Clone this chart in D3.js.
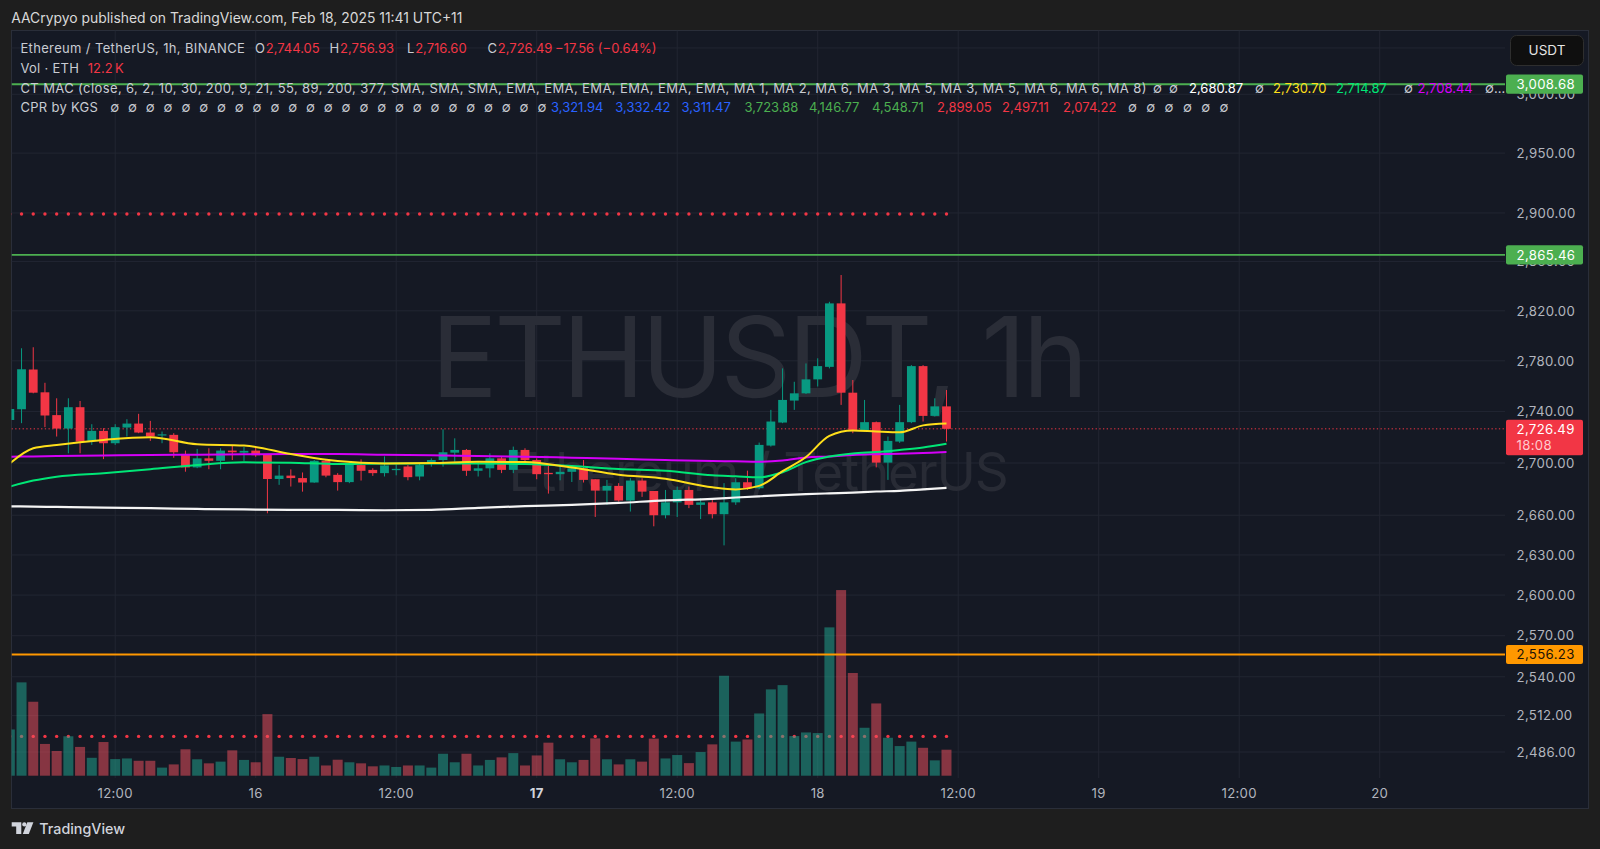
<!DOCTYPE html>
<html><head><meta charset="utf-8"><title>ETHUSDT 1h</title>
<script src="https://cdn.jsdelivr.net/npm/d3@7/dist/d3.min.js"></script>
<style>html,body{margin:0;padding:0;background:#1e1e1e;overflow:hidden}svg{display:block;font-family:Inter,"Noto Sans","DejaVu Sans",sans-serif}</style>
</head><body><svg id="chart" width="1600" height="849"></svg>
<script>
// ---------------- DATA ----------------
const firstCandleUTC = Date.UTC(2025, 1, 15, 3); // Feb 15 03:00, 1h candles
const opens = [2733.4,2741.8,2773.1,2755.1,2737.2,2726.7,2743.4,2717.1,2724.9,2715.3,
2727.5,2730.6,2723.6,2721.3,2721.8,2707.0,2696.6,2703.6,2701.7,2709.6,
2708.0,2709.6,2706.2,2687.7,2690.3,2688.4,2685.0,2701.7,2690.9,2685.3,
2698.4,2694.7,2692.2,2694.5,2697.3,2689.6,2700.3,2702.3,2708.0,2710.1,
2694.0,2695.9,2703.6,2694.7,2710.1,2702.3,2692.4,2691.4,2693.2,2695.9,
2687.5,2678.8,2682.4,2671.2,2686.5,2678.5,2660.0,2669.8,2679.3,2667.9,
2669.8,2660.8,2669.8,2685.2,2680.6,2713.5,2731.4,2748.6,2754.3,2765.3,
2775.2,2826.0,2754.8,2725.6,2731.7,2700.3,2716.6,2731.7,2775.8,2736.6,
2744.05];
const highs = [2745.0,2790.0,2790.8,2762.6,2750.4,2750.4,2748.3,2730.1,2727.0,2730.1,
2734.0,2738.2,2732.7,2724.4,2723.1,2709.6,2710.9,2711.4,2711.4,2713.2,
2712.4,2712.2,2706.6,2698.4,2695.1,2692.7,2702.3,2702.3,2692.2,2700.7,
2702.8,2696.0,2705.1,2698.9,2698.4,2699.7,2703.6,2726.2,2719.1,2710.8,
2701.0,2707.5,2704.9,2712.7,2711.4,2703.6,2698.4,2698.4,2698.4,2702.3,
2687.5,2687.0,2684.5,2688.3,2688.3,2678.5,2679.3,2681.9,2681.9,2672.9,
2671.7,2684.5,2688.3,2694.1,2715.8,2741.3,2774.0,2763.4,2777.9,2782.0,
2827.3,2849.0,2764.8,2749.1,2732.2,2720.5,2745.2,2776.6,2776.6,2750.4,
2756.93];
const lows = [2729.0,2730.9,2754.3,2727.8,2720.5,2707.5,2707.5,2714.0,2703.0,2714.0,
2720.5,2723.1,2717.1,2715.3,2704.0,2693.3,2696.0,2695.2,2695.2,2702.3,
2701.6,2704.8,2661.5,2683.2,2681.9,2678.0,2684.8,2689.0,2678.8,2684.5,
2686.5,2690.1,2689.6,2690.5,2686.7,2686.7,2697.2,2697.2,2701.0,2690.1,
2689.6,2688.8,2692.2,2692.2,2699.7,2687.5,2676.5,2686.7,2685.4,2685.0,
2658.7,2667.9,2670.4,2662.8,2674.0,2651.6,2657.6,2658.7,2665.4,2657.1,
2657.6,2637.2,2667.9,2679.3,2679.8,2712.7,2730.9,2741.3,2753.8,2759.7,
2774.0,2745.2,2723.1,2724.4,2696.6,2687.0,2715.6,2730.9,2732.2,2736.1,
2716.60];
const closes = [2742.0,2773.3,2754.8,2736.9,2726.7,2743.4,2716.6,2724.9,2715.3,2727.8,
2730.6,2723.6,2720.5,2722.2,2708.3,2696.6,2703.6,2701.7,2709.6,2708.3,
2709.4,2706.0,2687.7,2690.3,2688.4,2685.0,2701.7,2690.3,2685.3,2699.2,
2694.0,2692.2,2698.1,2695.5,2689.1,2698.4,2702.3,2708.3,2710.1,2694.0,
2695.9,2703.6,2694.7,2710.1,2702.3,2691.4,2691.4,2693.2,2695.9,2687.0,
2678.8,2682.4,2671.2,2686.5,2678.0,2660.0,2669.8,2679.3,2667.9,2669.8,
2660.8,2669.8,2685.2,2680.6,2714.0,2732.2,2749.1,2754.3,2765.3,2775.8,
2826.0,2754.8,2725.6,2731.7,2700.3,2717.1,2731.7,2775.8,2736.6,2744.05,
2726.49];
const volumesK = [21.7,43.8,34.7,14.9,11.6,18.5,13.5,8.4,15.8,7.8,
8.1,7.0,7.0,3.8,5.3,12.4,7.7,5.8,6.6,11.9,
7.4,6.3,28.9,8.9,8.3,7.8,8.9,4.8,7.5,6.3,
5.8,4.4,4.8,4.1,4.8,4.8,3.8,10.3,6.3,10.3,
4.8,7.4,8.6,10.6,4.8,9.5,15.5,7.7,6.3,7.4,
17.5,7.7,5.3,7.7,6.6,17.4,8.1,9.7,5.9,11.1,
14.7,46.9,16.0,17.0,29.2,40.5,42.5,18.6,20.3,20.0,
69.6,87.1,48.2,22.5,33.9,17.8,13.9,16.0,13.1,7.2,
12.2];
// moving averages, read at these candle indices
const maIndex  = [0,2,4,8,12,16,20,24,28,32,36,40,44,48,52,56,60,62,64,66,68,70,72,74,76,78,80];
const maWhite  = [2666.7,2666.6,2666.3,2665.8,2665.4,2664.8,2664.4,2664.1,2664.1,2663.8,2664.1,2665.6,2666.9,2667.9,2669.4,2671.3,2672.5,2673.5,2674.4,2675.3,2676.1,2676.7,2677.3,2678.1,2678.6,2679.7,2680.87];
const maYellow = [2699.7,2711.4,2714.0,2717.9,2720.0,2714.5,2713.5,2707.0,2701.5,2699.7,2700.0,2701.0,2700.7,2696.5,2691.0,2687.9,2681.3,2679.7,2682.4,2693.7,2704.6,2721.0,2725.2,2724.4,2723.8,2729.2,2730.70];
const maGreen  = [2681.9,2686.5,2689.5,2692.2,2695.2,2698.4,2700.5,2700.2,2699.2,2699.7,2699.7,2699.7,2699.2,2697.6,2695.3,2694.0,2690.6,2689.8,2689.0,2692.9,2700.7,2705.0,2707.4,2708.5,2710.1,2712.0,2714.87];
const maMagenta= [2704.9,2705.1,2705.4,2705.8,2706.2,2706.4,2706.7,2707.0,2707.0,2706.4,2706.0,2705.4,2704.9,2704.1,2703.3,2702.3,2701.5,2701.3,2701.0,2701.9,2704.3,2705.0,2706.2,2706.8,2707.2,2707.8,2708.44];
// CPR values (legend order) and the two visible dotted levels
const cprValues = [3321.94,3332.42,3311.47,3723.88,4146.77,4548.71,2899.05,2497.11,2074.22];
const cprColors = ["#2962ff","#2962ff","#2962ff","#4caf50","#4caf50","#4caf50","#f23645","#f23645","#f23645"];
const cprDotted = [2899.05, 2497.11];
// horizontal levels
const levelPrices = [3008.68, 2865.46, 2556.23];
const levelColors = ["#4caf50", "#4caf50", "#ff9800"];
// axes
const priceTicks = [3040,3000,2950,2900,2860,2820,2780,2740,2700,2660,2630,2600,2570,2540,2512,2486];
const hiddenTickLabels = [3040]; // covered by the currency button
const timeTickUTC = [[2025,1,15,12],[2025,1,16,0],[2025,1,16,12],[2025,1,17,0],[2025,1,17,12],[2025,1,18,0],[2025,1,18,12],[2025,1,19,0],[2025,1,19,12],[2025,1,20,0]];
const timeTickLabels = ["12:00","16","12:00","17","12:00","18","12:00","19","12:00","20"];
const maParamsText = "CT MAC (close, 6, 2, 10, 30, 200, 9, 21, 55, 89, 200, 377, SMA, SMA, SMA, EMA, EMA, EMA, EMA, EMA, EMA, MA 1, MA 2, MA 6, MA 3, MA 5, MA 3, MA 5, MA 6, MA 6, MA 8)";

// ---------------- LAYOUT ----------------
const W = 1600, H = 849;
const pane = {x0: 11.5, x1: 1505, y0: 30.5, y1: 778};
const UP = "#089981", DOWN = "#f23645";
const fmt = d3.format(",.2f");
const EMPTY = "\u2205";

const times = opens.map((_, i) => new Date(firstCandleUTC + i * 3600e3));
const x = d3.scaleUtc().domain([new Date(Date.UTC(2025,1,16,0)), new Date(Date.UTC(2025,1,18,0))]).range([255.7, 817.7]);
const y = d3.scaleLog().domain([2950, 2486]).range([153.1, 752.0]);
const yv = d3.scaleLinear().domain([0, 12.2]).range([775.7, 749.7]);

const svg = d3.select("#chart");
svg.append("rect").attr("width", W).attr("height", H).attr("fill", "#1e1e1e");
svg.append("rect").attr("x", 11.5).attr("y", 30.5).attr("width", 1577).attr("height", 778)
  .attr("fill", "#151924").attr("stroke", "#2a2e39").attr("stroke-width", 1);

const defs = svg.append("defs");
defs.append("clipPath").attr("id", "paneClip").append("rect")
  .attr("x", pane.x0).attr("y", pane.y0).attr("width", pane.x1 - pane.x0).attr("height", pane.y1 - pane.y0);

// grid
const grid = svg.append("g").attr("clip-path", "url(#paneClip)");
grid.selectAll("line.h").data(priceTicks).join("line")
  .attr("x1", pane.x0).attr("x2", pane.x1).attr("y1", d => y(d)).attr("y2", d => y(d))
  .attr("stroke", "#222632").attr("stroke-width", 1);
const timeTicks = timeTickUTC.map(a => new Date(Date.UTC(...a)));
grid.selectAll("line.v").data(timeTicks).join("line")
  .attr("x1", d => x(d)).attr("x2", d => x(d)).attr("y1", pane.y0).attr("y2", pane.y1)
  .attr("stroke", "#222632").attr("stroke-width", 1);

// watermark
const wm = svg.append("g").attr("clip-path", "url(#paneClip)");
wm.append("text").attr("x", 758).attr("y", 397).attr("text-anchor", "middle")
  .attr("font-size", 111).attr("letter-spacing", -3.6).attr("fill", "#2a2d37").text("ETHUSDT, 1h");
wm.append("text").attr("x", 758).attr("y", 491).attr("text-anchor", "middle")
  .attr("font-size", 53).attr("letter-spacing", -1.2).attr("fill", "#282b35").text("Ethereum / TetherUS");

const plot = svg.append("g").attr("clip-path", "url(#paneClip)");

// CPR dotted levels
cprDotted.forEach(v => {
  plot.append("g").selectAll("circle").data(times).join("circle")
    .attr("cx", d => x(d)).attr("cy", y(v)).attr("r", 1.7).attr("fill", "#f23645");
});

// volume
plot.append("g").selectAll("rect").data(volumesK).join("rect")
  .attr("x", (d, i) => x(times[i]) - 5).attr("width", 10)
  .attr("y", d => yv(d)).attr("height", d => yv(0) - yv(d))
  .attr("fill", (d, i) => closes[i] >= opens[i] ? "#22ab94" : "#f7525f")
  .attr("opacity", 0.5);

// horizontal levels
plot.append("g").selectAll("line").data(levelPrices).join("line")
  .attr("x1", pane.x0).attr("x2", pane.x1).attr("y1", d => y(d)).attr("y2", d => y(d))
  .attr("stroke", (d, i) => levelColors[i]).attr("stroke-width", (d, i) => i === 1 ? 1.6 : 2);

// current price dotted line
const last = closes.length - 1;
plot.append("line").attr("x1", pane.x0).attr("x2", pane.x1)
  .attr("y1", y(closes[last])).attr("y2", y(closes[last]))
  .attr("stroke", DOWN).attr("stroke-width", 1).attr("stroke-dasharray", "1.3,2.4");

// candles
const cg = plot.append("g");
opens.forEach((o, i) => {
  const c = closes[i], col = c >= o ? UP : DOWN, cx = x(times[i]);
  cg.append("line").attr("x1", cx).attr("x2", cx).attr("y1", y(highs[i])).attr("y2", y(lows[i]))
    .attr("stroke", col).attr("stroke-width", 1);
  const top = y(Math.max(o, c)), bot = y(Math.min(o, c));
  cg.append("rect").attr("x", cx - 4.4).attr("width", 8.8).attr("y", top)
    .attr("height", Math.max(1, bot - top)).attr("fill", col);
});

// moving averages
const maLine = d3.line().x(d => x(times[d[0]])).y(d => y(d[1])).curve(d3.curveMonotoneX);
[[maWhite, "#f5f5f5", 2.2], [maMagenta, "#d500f9", 2], [maGreen, "#00e676", 2], [maYellow, "#ffdf1a", 2]].forEach(([arr, col, sw]) => {
  plot.append("path").attr("d", maLine(maIndex.map((k, j) => [k, arr[j]])))
    .attr("fill", "none").attr("stroke", col).attr("stroke-width", sw);
});

// ---------------- AXES ----------------
const axisFont = 13.2;
const pa = svg.append("g").attr("font-size", axisFont).attr("fill", "#b2b5be");
pa.selectAll("text").data(priceTicks.filter(d => !hiddenTickLabels.includes(d))).join("text")
  .attr("x", 1516.5).attr("y", d => y(d)).attr("dy", "0.36em").attr("letter-spacing", 0.35).text(d => fmt(d));

// USDT button
svg.append("rect").attr("x", 1510.5).attr("y", 35.5).attr("width", 73).attr("height", 30).attr("rx", 6)
  .attr("fill", "#0f0f0f").attr("stroke", "#2e2e2e");
svg.append("text").attr("x", 1547).attr("y", 50.5).attr("dy", "0.36em").attr("text-anchor", "middle")
  .attr("font-size", 13.5).attr("fill", "#e6e6e6").text("USDT");

// price labels on axis
function axisBox(v, bg, fg) {
  const cy = y(v);
  svg.append("rect").attr("x", 1506).attr("y", cy - 9.6).attr("width", 77).attr("height", 19.2).attr("rx", 2).attr("fill", bg);
  svg.append("text").attr("x", 1516.5).attr("y", cy).attr("dy", "0.36em").attr("font-size", axisFont)
    .attr("letter-spacing", 0.35).attr("fill", fg).text(fmt(v));
}
axisBox(levelPrices[0], levelColors[0], "#ffffff");
axisBox(levelPrices[1], levelColors[1], "#ffffff");
axisBox(levelPrices[2], levelColors[2], "#1a1207");
{
  const cy = y(closes[last]);
  svg.append("rect").attr("x", 1506).attr("y", cy - 9).attr("width", 77).attr("height", 35.3).attr("rx", 2).attr("fill", DOWN);
  svg.append("text").attr("x", 1516.5).attr("y", cy).attr("dy", "0.36em").attr("font-size", axisFont)
    .attr("letter-spacing", 0.35).attr("fill", "#ffffff").text(fmt(closes[last]));
  svg.append("text").attr("x", 1516.5).attr("y", cy + 16).attr("dy", "0.36em").attr("font-size", axisFont)
    .attr("letter-spacing", 0.35).attr("fill", "#ffc9ce").text("18:08");
}

// time axis
svg.append("g").selectAll("text").data(timeTicks).join("text")
  .attr("x", d => x(d)).attr("y", 793.3).attr("dy", "0.36em").attr("text-anchor", "middle")
  .attr("font-size", axisFont).attr("letter-spacing", 0.3)
  .attr("font-weight", (d, i) => timeTickLabels[i] === "17" ? 700 : 400)
  .attr("fill", (d, i) => timeTickLabels[i] === "17" ? "#d1d4dc" : "#b2b5be")
  .text((d, i) => timeTickLabels[i]);

// ---------------- HEADER / LEGEND ----------------
svg.append("text").attr("x", 11.2).attr("y", 17.5).attr("dy", "0.36em").attr("font-size", 13.9)
  .attr("fill", "#d9d9d9").text("AACrypyo published on TradingView.com, Feb 18, 2025 11:41 UTC+11");

const lg = svg.append("g").attr("font-size", 13);
function seg(xp, yp, t, col) {
  return lg.append("text").attr("x", xp).attr("y", yp).attr("dy", "0.36em").attr("fill", col).text(t);
}
const GRAY = "#c9ccd3";
// row 1
seg(20.4, 48.8, "Ethereum / TetherUS, 1h, BINANCE", GRAY).attr("letter-spacing", 0.35);
const chg = closes[last] - closes[last - 1];
const ohlc = [["O", opens[last], 255], ["H", highs[last], 329.6], ["L", lows[last], 407], ["C", closes[last], 487.5]];
ohlc.forEach(([k, v, xp]) => {
  const t = seg(xp, 48.8, k, GRAY);
  const w = t.node().getComputedTextLength();
  seg(xp + w + 0.8, 48.8, fmt(v), DOWN);
});
seg(555, 48.8, d3.format("+,.2f")(chg).replace("+", "") + " (" + d3.format(".2%")(chg / closes[last - 1]) + ")", DOWN);
// row 2
seg(20.4, 68.3, "Vol \u00b7 ETH", GRAY).attr("letter-spacing", 0.3);
seg(87.8, 68.3, d3.format(".1f")(volumesK[last]) + "\u202fK", DOWN);
// row 3
seg(20.4, 88.2, maParamsText, GRAY).attr("textLength", 1126).attr("lengthAdjust", "spacing");
seg(1153, 88.2, EMPTY, GRAY); seg(1169, 88.2, EMPTY, GRAY);
seg(1189, 88.2, fmt(maWhite[maWhite.length - 1]), "#ffffff");
seg(1255, 88.2, EMPTY, GRAY);
seg(1273, 88.2, fmt(maYellow[maYellow.length - 1]), "#ffdf1a");
seg(1336, 88.2, fmt(maGreen[maGreen.length - 1]), "#00e676");
seg(1404, 88.2, EMPTY, GRAY);
seg(1417.6, 88.2, fmt(maMagenta[maMagenta.length - 1]), "#d500f9");
seg(1485, 88.2, EMPTY + "\u2026", GRAY);
// row 4
seg(20.4, 107.8, "CPR by KGS", GRAY).attr("letter-spacing", 0.3);
d3.range(25).forEach(k => seg(110.2 + k * 17.8, 107.8, EMPTY, GRAY));
const cprX = [551, 615.3, 681.6, 744.5, 809, 872, 937, 1002, 1063];
cprValues.forEach((v, k) => seg(cprX[k], 107.8, fmt(v), cprColors[k]));
d3.range(6).forEach(k => seg(1128 + k * 18.3, 107.8, EMPTY, GRAY));

// ---------------- FOOTER LOGO ----------------
const logo = svg.append("g").attr("fill", "#d1d4dc");
logo.append("path").attr("d", "M11.7,822.3 H21.3 V834 H16.2 V826.6 H11.7 Z");
logo.append("circle").attr("cx", 24.3).attr("cy", 824.4).attr("r", 2.1);
logo.append("path").attr("d", "M27.3,822.3 H33.4 L28.8,834 H22.8 Z");
svg.append("text").attr("x", 39.3).attr("y", 828.6).attr("dy", "0.36em").attr("font-size", 14.3)
  .attr("font-weight", 500).attr("fill", "#d1d4dc").text("TradingView");
</script></body></html>
